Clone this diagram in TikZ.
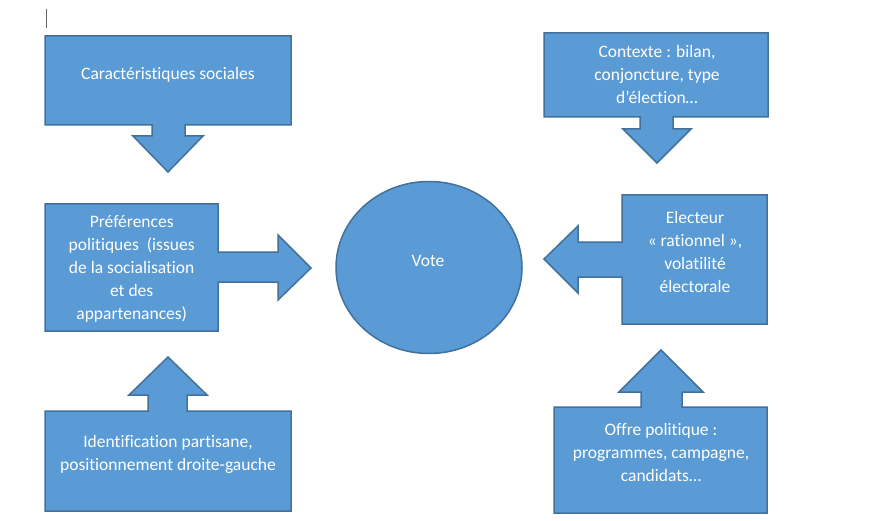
\documentclass[tikz,border=0pt]{standalone}
\usepackage{fontspec}
\setmainfont[Ligatures={NoCommon}]{Carlito}
\definecolor{fillblue}{HTML}{5B9BD5}
\definecolor{edgeblue}{HTML}{41719C}
\begin{document}
\begin{tikzpicture}[x=1pt,y=-1pt,
  shapestyle/.style={fill=fillblue,draw=edgeblue,line width=1.5pt,line join=miter},
  txt/.style={text=white,align=center,font=\fontsize{17.5}{23}\selectfont,inner sep=0pt}]
\useasboundingbox (0,0) rectangle (869,521);
\fill[white] (0,0) rectangle (869,521);
% text cursor
\draw[gray!80!black,line width=0.8pt] (46,9) -- (46,28);
% callout 1
\draw[shapestyle] (45,36) -- (291,36) -- (291,125) -- (185,125) -- (185,136) -- (203,136) -- (168,172) -- (133,136) -- (152,136) -- (152,125) -- (45,125) -- cycle;
% callout 2
\draw[shapestyle] (45,204) -- (218,204) -- (218,252) -- (278,252) -- (278,235) -- (311,268) -- (278,300) -- (278,282) -- (218,282) -- (218,331) -- (45,331) -- cycle;
% callout 3
\draw[shapestyle] (45,411) -- (148,411) -- (148,395) -- (129,395) -- (168,357) -- (207,395) -- (187,395) -- (187,411) -- (291,411) -- (291,511) -- (45,511) -- cycle;
% callout 4
\draw[shapestyle] (544,33) -- (768,33) -- (768,117) -- (673,117) -- (673,129) -- (691,129) -- (657,163) -- (623,129) -- (640,129) -- (640,117) -- (544,117) -- cycle;
% callout 5
\draw[shapestyle] (622,195) -- (767,195) -- (767,324) -- (622,324) -- (622,277) -- (578,277) -- (578,293) -- (544,259) -- (578,226) -- (578,242) -- (622,242) -- cycle;
% callout 6
\draw[shapestyle] (554,407) -- (641,407) -- (641,392) -- (619,392) -- (661,350) -- (703,392) -- (682,392) -- (682,407) -- (767,407) -- (767,513) -- (554,513) -- cycle;
% ellipse
\draw[shapestyle] (429,267.5) ellipse [x radius=93, y radius=86];
% texts
\node[txt] (caract) at (168,75) {Caractéristiques sociales};
\node[txt] (pref) at (131.7,269) {Préférences\\politiques\ \ (issues\\de la socialisation\\et des\\appartenances)};
\node[txt] (ident) at (168,454) {Identification partisane,\\positionnement droite-gauche};
\node[txt] (ctx) at (657,74) {Contexte : bilan,\\conjoncture, type\\d’élection…};
\node[txt] (elect) at (695,252) {Electeur\\« rationnel »,\\volatilité\\électorale};
\node[txt] (offre) at (661,452) {Offre politique :\\programmes, campagne,\\candidats…};
\node[txt] (vote) at (428,261) {Vote};
\end{tikzpicture}
\end{document}
